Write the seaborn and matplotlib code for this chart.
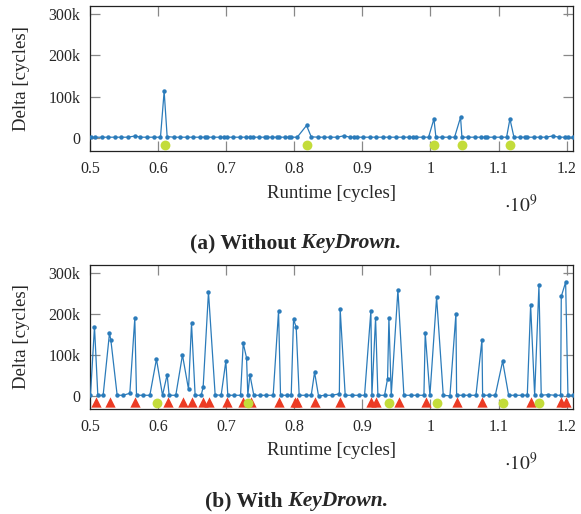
import numpy as np
import pandas as pd
import matplotlib
matplotlib.use("Agg")
import matplotlib.pyplot as plt
import seaborn as sns

# runtime in units of 1e9 cycles, delta in cycles
top_x = [0.5017, 0.5075, 0.5173, 0.5271, 0.5369, 0.5457, 0.5555, 0.5663, 0.5741, 0.5830,
         0.5947, 0.6035, 0.6089, 0.6133, 0.6231, 0.6329, 0.6427, 0.6515, 0.6613, 0.6682,
         0.6711, 0.6809, 0.6907, 0.6975, 0.7005, 0.7103, 0.7201, 0.7289, 0.7348, 0.7392,
         0.7475, 0.7573, 0.7602, 0.7671, 0.7739, 0.7769, 0.7867, 0.7916, 0.7955, 0.8043,
         0.8180, 0.8249, 0.8347, 0.8435, 0.8523, 0.8631, 0.8729, 0.8817, 0.8875, 0.8915,
         0.9012, 0.9110, 0.9199, 0.9297, 0.9394, 0.9492, 0.9590, 0.9688, 0.9737, 0.9786,
         0.9884, 0.9972, 1.0051, 1.0080, 1.0168, 1.0266, 1.0354, 1.0442, 1.0462, 1.0550,
         1.0648, 1.0736, 1.0805, 1.0834, 1.0932, 1.1040, 1.1118, 1.1167, 1.1226, 1.1314,
         1.1392, 1.1422, 1.1520, 1.1608, 1.1696, 1.1794, 1.1892, 1.1970, 1.2019, 1.2088]
top_delta_k = [1.5, 1.5, 1.5, 1.5, 1.5, 1.5, 1.5, 4.5, 1.5, 1.5,
               1.5, 1.5, 113, 3, 1.5, 1.5, 1.5, 1.5, 1.5, 1.5,
               1.5, 1.5, 1.5, 1.5, 1.5, 1.5, 1.5, 1.5, 1.5, 1.5,
               1.5, 1.5, 1.5, 1.5, 1.5, 1.5, 1.5, 1.5, 1.5, 1.5,
               30, 2.5, 1.5, 1.5, 1.5, 1.5, 5, 1.5, 1.5, 1.5,
               1.5, 1.5, 1.5, 1.5, 1.5, 1.5, 1.5, 1.5, 1.5, 1.5,
               1.5, 1.5, 46, 1.5, 1.5, 1.5, 1.5, 50, 1.5, 1.5,
               1.5, 1.5, 1.5, 1.5, 1.5, 1.5, 1.5, 46, 1.5, 1.5,
               1.5, 1.5, 1.5, 1.5, 1.5, 4.5, 1.5, 1.5, 1.5, 1.5]
top_keys = [0.6099, 0.8185, 1.0054, 1.0457, 1.1167]

bot_x = [0.5007, 0.5066, 0.5115, 0.5193, 0.5286, 0.5306, 0.5399, 0.5487, 0.5585, 0.5658,
         0.5683, 0.5781, 0.5879, 0.5976, 0.6065, 0.6133, 0.6162, 0.6260, 0.6358, 0.6447,
         0.6491, 0.6544, 0.6633, 0.6662, 0.6740, 0.6838, 0.6926, 0.6995, 0.7024, 0.7113,
         0.7211, 0.7250, 0.7299, 0.7318, 0.7348, 0.7406, 0.7495, 0.7592, 0.7690, 0.7769,
         0.7798, 0.7886, 0.7955, 0.7989, 0.8028, 0.8072, 0.8170, 0.8249, 0.8298, 0.8356,
         0.8454, 0.8552, 0.8662, 0.8674, 0.8748, 0.8846, 0.8944, 0.9032, 0.9125, 0.9140,
         0.9194, 0.9228, 0.9326, 0.9370, 0.9390, 0.9424, 0.9522, 0.9610, 0.9713, 0.9806,
         0.9904, 0.9923, 0.9992, 1.0090, 1.0188, 1.0286, 1.0374, 1.0384, 1.0472, 1.0570,
         1.0668, 1.0756, 1.0766, 1.0864, 1.0952, 1.1060, 1.1148, 1.1246, 1.1344, 1.1422,
         1.1471, 1.1530, 1.1593, 1.1627, 1.1725, 1.1823, 1.1912, 1.1921, 1.1985, 1.2019,
         1.2088]
bot_delta_k = [2, 169, 1.5, 1.5, 153, 137, 1.5, 1.5, 6.5, 190,
               1.5, 1.5, 1.5, 90, 1.5, 52, 1.5, 1.5, 100, 16,
               177, 1.5, 1.5, 22, 254, 2.5, 1.5, 85, 1.5, 1.5,
               1.5, 129, 93, 1.5, 52, 1.5, 1.5, 1.5, 1.5, 208,
               1.5, 1.5, 1.5, 187, 168, 1.5, 1.5, 1.5, 58, 0,
               1.5, 1.5, 5, 212, 1.5, 1.5, 1.5, 1.5, 208, 1.5,
               190, 1.5, 1.5, 42, 190, 1.5, 259, 1.5, 1.5, 1.5,
               1.5, 154, 1.5, 241, 1.5, 0, 201, 1.5, 1.5, 1.5,
               1.5, 137, 1.5, 1.5, 1.5, 85, 1.5, 1.5, 1.5, 1.5,
               222, 1.5, 270, 1.5, 3, 1.5, 1.5, 243, 278, 1.5,
               1.5]
bot_keys = [0.5977, 0.7314, 0.9390, 1.0099, 1.1060, 1.1593]
bot_spurious = [0.5081, 0.5301, 0.5658, 0.6139, 0.6359, 0.6491, 0.6662, 0.6745, 0.7005, 0.7249,
                0.7358, 0.7778, 0.8009, 0.8042, 0.8302, 0.8670, 0.9121, 0.9199, 0.9537, 0.9933,
                1.0384, 1.0760, 1.1476, 1.1912, 1.1990]

xticks = [0.5, 0.6, 0.7, 0.8, 0.9, 1.0, 1.1, 1.2]
xtick_labels = ['0.5', '0.6', '0.7', '0.8', '0.9', '1', '1.1', '1.2']
yticks = [0, 100000, 200000, 300000]
ytick_labels = ['0', '100k', '200k', '300k']

sns.set_style('ticks')
plt.rcParams['font.family'] = ['Liberation Serif', 'DejaVu Serif']
plt.rcParams['mathtext.fontset'] = 'stix'

line_col = '#2b7bba'
key_col = '#c3dc3a'
spur_col = '#ec3b24'

fig = plt.figure(figsize=(5.81, 5.14), dpi=100)
ax1 = fig.add_axes([0.1549, 0.7062, 0.8313, 0.2821])
ax2 = fig.add_axes([0.1549, 0.2043, 0.8313, 0.2802])


def draw(ax, xs, ys_k, keys, spurious=None):
    df = pd.DataFrame({'runtime': xs, 'delta': np.array(ys_k) * 1000})
    sns.lineplot(data=df, x='runtime', y='delta', ax=ax, color=line_col, lw=0.9,
                 marker='o', markersize=3.2, markeredgewidth=0, estimator=None,
                 sort=False, zorder=3)
    if spurious is not None:
        sns.scatterplot(x=spurious, y=[-15500] * len(spurious), ax=ax, marker='^',
                        s=55, color=spur_col, linewidth=0, zorder=4)
    sns.scatterplot(x=keys, y=[-18000] * len(keys), ax=ax, marker='o',
                    s=50, color=key_col, linewidth=0, zorder=5)
    ax.set_xlim(0.5, 1.2093)
    ax.set_ylim(-32000, 320000)
    ax.set_xticks(xticks)
    ax.set_xticklabels(xtick_labels)
    ax.set_yticks(yticks)
    ax.set_yticklabels(ytick_labels)
    ax.tick_params(direction='in', length=7, width=0.9, color='#888888',
                   top=True, right=True, labelsize=11.5, pad=7)
    for s in ax.spines.values():
        s.set_visible(True)
        s.set_color('#222222')
        s.set_linewidth(0.9)
    ax.set_xlabel('Runtime [cycles]', fontsize=13.5, va='center')
    ax.set_ylabel('Delta [cycles]', fontsize=13.5, va='center')
    ax.xaxis.set_label_coords(0.5, -0.29)
    ax.yaxis.set_label_coords(-0.141, 0.5)


draw(ax1, top_x, top_delta_k, top_keys)
draw(ax2, bot_x, bot_delta_k, bot_keys, bot_spurious)

fig.text(0.897, 1 - 205 / 514, r'$\cdot10^{9}$', fontsize=14, ha='center', va='center')
fig.text(0.897, 1 - 463 / 514, r'$\cdot10^{9}$', fontsize=14, ha='center', va='center')

# captions: bold text followed by bold italic name
t1 = fig.text(190 / 581, 1 - 253 / 514, '(a) Without', fontsize=15.5, fontweight='bold',
              ha='left', va='bottom')
ax1.annotate(' KeyDrown.', xy=(1, 0), xycoords=t1, fontsize=15.5, fontweight='bold',
             fontstyle='italic', ha='left', va='bottom', annotation_clip=False)
t2 = fig.text(205 / 581, 1 - 511 / 514, '(b) With', fontsize=15.5, fontweight='bold',
              ha='left', va='bottom')
ax2.annotate(' KeyDrown.', xy=(1, 0), xycoords=t2, fontsize=15.5, fontweight='bold',
             fontstyle='italic', ha='left', va='bottom', annotation_clip=False)

fig.savefig('out.png', dpi=100)
